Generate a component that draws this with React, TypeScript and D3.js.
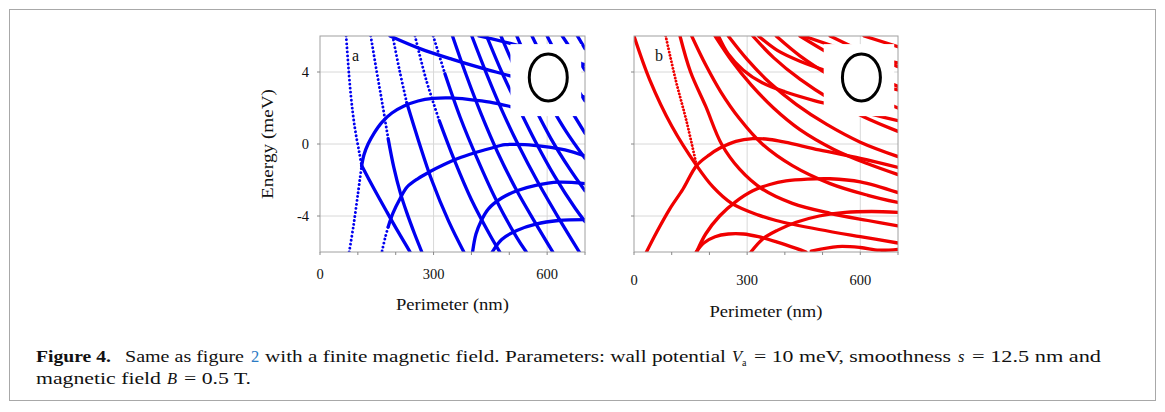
import React from 'react';
import * as d3 from 'd3';

type Pt = [number, number];

// ---- panel a (blue) : [perimeter nm, energy meV]
// falling levels (steep upper part drawn dotted where the markers spread apart)
const aF1top: Pt[] = [[69, 6], [81, 2.8], [92, 0.9], [104, -0.5], [110, -1.2]];
const aF1: Pt[] = [[110, -1.2], [143, -2.5], [176, -3.75], [207, -4.9], [238, -6]];
const aF2top: Pt[] = [[134, 6], [150, 4], [165, 2.2], [180, 0.3]];
const aF2: Pt[] = [[180, 0.3], [195, -1.3], [212, -2.7], [229, -3.8], [250, -5], [269, -6]];
const aF3top: Pt[] = [[192, 6], [210, 4.1], [229, 2.3]];
const aF3: Pt[] = [[229, 2.3], [260, 0.2], [295, -2], [340, -4.3], [380, -6]];
const aF4top: Pt[] = [[251, 6], [280, 3.6], [315, 1.3]];
const aF4: Pt[] = [[315, 1.3], [355, -0.9], [400, -3.1], [450, -5.1], [475, -6]];
const aF5top: Pt[] = [[299, 6], [330, 3.9]];
const aF5: Pt[] = [[330, 3.9], [370, 1.5], [415, -0.8], [465, -3.1], [520, -5.2], [545, -6]];
const aF6: Pt[] = [[350, 6], [385, 3.9], [425, 1.7], [470, -0.5], [520, -2.6], [575, -4.6], [615, -6]];
const aF7: Pt[] = [[401, 6], [440, 3.9], [480, 1.9], [525, -0.1], [575, -2.1], [630, -4.1], [685, -6]];
const aF8: Pt[] = [[440, 6], [480, 4], [525, 2], [570, 0.1], [620, -1.8], [675, -3.6], [700, -4.3]];
const aF9: Pt[] = [[478, 6], [520, 4], [565, 2.1], [610, 0.3], [660, -1.4], [700, -2.6]];
const aF10: Pt[] = [[520, 6], [560, 4.1], [605, 2.3], [650, 0.7], [700, -0.8]];
const aF11: Pt[] = [[560, 6], [600, 4.3], [640, 2.7], [700, 0.6]];
const aF12: Pt[] = [[600, 6], [640, 4.4], [700, 2.4]];
const aF13: Pt[] = [[640, 6], [700, 4.1]];
const aF14: Pt[] = [[680, 6], [700, 5.3]];
// flat descending branches near the top
const aD0: Pt[] = [[185, 6], [264, 5.3], [350, 4.7], [430, 4.2], [500, 3.8], [600, 3.2], [700, 2.6]];
const aD1: Pt[] = [[420, 6], [500, 5.6], [600, 5.0], [700, 4.4]];
// rising domes
const aC1low: Pt[] = [[77, -6], [88, -4.6], [100, -2.8], [110, -1.22]];
const aC1: Pt[] = [[110, -1.22], [116, -0.61], [127, 0], [143, 0.61], [164, 1.22], [190, 1.72], [222, 2.11], [259, 2.39], [298, 2.53], [343, 2.56], [396, 2.47], [449, 2.33], [497, 2.11], [560, 1.75]];
const aC2low: Pt[] = [[164, -5.94], [172, -5.22], [180, -4.61]];
const aC2: Pt[] = [[180, -4.61], [193, -3.83], [211, -3.06], [230, -2.39], [259, -1.92], [291, -1.53], [325, -1.17], [364, -0.81], [407, -0.5], [449, -0.25], [489, -0.04], [541, -0.03], [594, -0.14], [647, -0.33], [700, -0.67]];
const aC3: Pt[] = [[403, -6], [412, -5], [425, -4.3], [445, -3.6], [480, -3.0], [520, -2.6], [570, -2.3], [630, -2.12], [700, -2.2]];
const aC4: Pt[] = [[455, -6], [480, -5.3], [520, -4.8], [570, -4.45], [630, -4.25], [700, -4.2]];

const aSolid = [aF1, aF2, aF3, aF4, aF5, aF6, aF7, aF8, aF9, aF10, aF11, aF12, aF13, aF14, aD0, aD1, aC1, aC2, aC3, aC4];
const aDotted = [aF1top, aF2top, aF3top, aF4top, aF5top, aC1low, aC2low];

// ---- panel b (red)
const bR1: Pt[] = [[0, 6], [42, 3.55], [100, 1.0], [166, -1.2], [210, -2.4], [259, -3.3], [330, -3.95], [377, -4.25], [491, -4.75], [600, -5.15], [700, -5.5]];
const bR2: Pt[] = [[84, 6], [110, 3.6], [140, 1.2], [166, -1.2]];
const bR3: Pt[] = [[122, 6], [150, 4], [190, 2.1], [232, 0], [280, -1.4], [340, -2.5], [420, -3.3], [520, -3.85], [620, -4.25], [700, -4.55]];
const bR4: Pt[] = [[153, 6], [190, 4.4], [230, 2.9], [280, 1.4], [340, 0], [420, -1.2], [520, -2.2], [620, -2.85], [700, -3.25]];
const bR5: Pt[] = [[215, 6], [260, 4.6], [310, 3.3], [370, 2], [440, 0.8], [530, -0.3], [620, -1.1], [700, -1.7]];
const bR6: Pt[] = [[250, 6], [300, 4.7], [360, 3.4], [430, 2.2], [510, 1.1], [600, 0.1], [700, -0.7]];
const bR7: Pt[] = [[315, 6], [370, 4.8], [440, 3.6], [520, 2.5], [610, 1.5], [700, 0.7]];
const bR8: Pt[] = [[377, 6], [440, 4.9], [520, 3.8], [610, 2.8], [700, 2.0]];
const bR9: Pt[] = [[440, 6], [520, 5.0], [610, 4.0], [700, 3.2]];
const bR10: Pt[] = [[520, 6], [610, 5.1], [700, 4.3]];
const bR11: Pt[] = [[610, 6], [700, 5.4]];
const bQ1: Pt[] = [[224, 6], [250, 5.0], [290, 4.1], [340, 3.4], [400, 2.9], [480, 2.4], [560, 2.0], [640, 1.6], [700, 1.3]];
const bQ2: Pt[] = [[330, 6], [380, 5.2], [440, 4.6], [520, 4.0], [600, 3.5], [700, 3.0]];
const bQ3: Pt[] = [[450, 6], [520, 5.5], [600, 5.0], [700, 4.5]];
const bB1: Pt[] = [[33, -6], [60, -4.9], [95, -3.6], [130, -2.5], [166, -1.2], [200, -0.6], [227, -0.24], [270, 0.15], [315, 0.3], [360, 0.25], [400, 0.1], [491, -0.33], [600, -0.8], [700, -1.3]];
const bB2: Pt[] = [[166, -6], [190, -5], [227, -4], [270, -3.2], [315, -2.6], [360, -2.25], [403, -2.05], [460, -1.95], [520, -1.93], [600, -2.1], [700, -2.7]];
const bB3: Pt[] = [[165, -6], [185, -5.5], [215, -5.15], [250, -5.0], [290, -5.0], [330, -5.15], [380, -5.45], [430, -5.8], [456, -6]];
const bB4: Pt[] = [[310, -6], [340, -5.3], [380, -4.8], [430, -4.35], [491, -4.0], [560, -3.8], [630, -3.75], [700, -3.8]];
const bB5: Pt[] = [[470, -5.95], [540, -5.7], [600, -5.75], [650, -5.9], [700, -5.85]];

const bSolid = [bR1, bR3, bR4, bR5, bR6, bR7, bR8, bR9, bR10, bR11, bQ1, bQ2, bQ3, bB1, bB2, bB3, bB4, bB5];
const bDotted = [bR2];

const majorX = [0, 300, 600];
const minorX = [0, 100, 200, 300, 400, 500, 600, 700];
const ticksY = [4, 0, -4];

const W = 1165;
const H = 412;
const serif = 'Liberation Serif';

type PanelProps = {
  id: string;
  left: number;
  right: number;
  solid: Pt[][];
  dotted: Pt[][];
  color: string;
  label: string;
  yLabels: boolean;
  tickY: number;
  titleY: number;
  dash: string;
};

const Panel = ({ id, left, right, solid, dotted, color, label, yLabels, tickY, titleY, dash }: PanelProps) => {
  const top = 36;
  const bottom = 252;
  const x = d3.scaleLinear().domain([0, 700]).range([left, right]);
  const y = d3.scaleLinear().domain([-6, 6]).range([bottom, top]);
  const line = d3
    .line<Pt>()
    .x((d) => x(d[0]))
    .y((d) => y(d[1]))
    .curve(d3.curveCatmullRom.alpha(0.5));

  return (
    <g>
      <defs>
        <clipPath id={`clip-${id}`}>
          <rect x={left} y={top} width={right - left} height={bottom - top} />
        </clipPath>
      </defs>
      {/* grid */}
      {majorX.filter((v) => v > 0).map((v) => (
        <line key={`gx${v}`} x1={x(v)} x2={x(v)} y1={top} y2={bottom} stroke="#d8d8d8" strokeWidth={1} />
      ))}
      {ticksY.map((v) => (
        <line key={`gy${v}`} x1={left} x2={right} y1={y(v)} y2={y(v)} stroke="#d8d8d8" strokeWidth={1} />
      ))}
      <g clipPath={`url(#clip-${id})`}>
        {solid.map((pts, i) => (
          <path key={`s${i}`} d={line(pts) ?? ''} fill="none" stroke={color} strokeWidth={3.3} strokeLinecap="round" />
        ))}
        {dotted.map((pts, i) => (
          <path
            key={`d${i}`}
            d={line(pts) ?? ''}
            fill="none"
            stroke={color}
            strokeWidth={2.9}
            strokeLinecap="round"
            strokeDasharray={dash}
          />
        ))}
        {/* inset with the dot outline */}
        <rect x={x(503)} y={y(5.55)} width={x(690) - x(503)} height={y(1.55) - y(5.55)} fill="#fff" />
        <ellipse cx={x(603)} cy={y(3.7)} rx={19} ry={23.5} fill="none" stroke="#000" strokeWidth={3} />
      </g>
      {/* frame */}
      <rect x={left} y={top} width={right - left} height={bottom - top} fill="none" stroke="#a0a0a0" strokeWidth={1} />
      {/* ticks */}
      {minorX.map((v) => (
        <line key={`tx${v}`} x1={x(v)} x2={x(v)} y1={bottom} y2={bottom + 3} stroke="#888" strokeWidth={1} />
      ))}
      {ticksY.map((v) => (
        <line key={`ty${v}`} x1={left - 3} x2={left} y1={y(v)} y2={y(v)} stroke="#888" strokeWidth={1} />
      ))}
      {majorX.map((v) => (
        <text key={`lx${v}`} x={x(v)} y={tickY} textAnchor="middle" fontFamily={serif} fontSize={14.5} fill="#111">
          {v}
        </text>
      ))}
      {yLabels &&
        ticksY.map((v) => (
          <text key={`ly${v}`} x={left - 11} y={y(v) + 5} textAnchor="end" fontFamily={serif} fontSize={14.5} fill="#111">
            {v}
          </text>
        ))}
      <text
        x={(left + right) / 2}
        y={titleY}
        textAnchor="middle"
        fontFamily={serif}
        fontSize={16}
        fill="#111"
        textLength={113}
        lengthAdjust="spacingAndGlyphs"
      >
        Perimeter (nm)
      </text>
      {yLabels && (
        <text
          transform={`translate(${left - 47},${y(0)}) rotate(-90)`}
          textAnchor="middle"
          fontFamily={serif}
          fontSize={16}
          fill="#111"
          textLength={110}
          lengthAdjust="spacingAndGlyphs"
        >
          Energy (meV)
        </text>
      )}
      <text x={x(0) + (id === 'a' ? 32 : 21)} y={y(4.9) + 5} fontFamily={serif} fontSize={16} fill="#111">
        {label}
      </text>
    </g>
  );
};

export default function App() {
  return (
    <svg width={W} height={H} style={{ position: 'absolute', left: 0, top: 0, background: '#fff' }}>
      <rect x={9.5} y={9.5} width={1146} height={391} fill="#fff" stroke="#a8a8a8" strokeWidth={1} />
      <Panel id="a" left={320} right={585} solid={aSolid} dotted={aDotted} color="#0000f0" label="a" yLabels tickY={279} titleY={310} dash="0.01 4" />
      <Panel id="b" left={634} right={898} solid={bSolid} dotted={bDotted} color="#f00000" label="b" yLabels={false} tickY={285} titleY={317} dash="0.01 3.3" />

      {/* caption */}
      <g fontFamily={serif} fontSize={16.5} fill="#111">
        <text x={36} y={362} fontWeight="bold" textLength={75} lengthAdjust="spacingAndGlyphs">Figure 4.</text>
        <text x={125} y={362} textLength={119} lengthAdjust="spacingAndGlyphs">Same as figure</text>
        <text x={251} y={362} fill="#2b7bc4">2</text>
        <text x={265} y={362} textLength={461} lengthAdjust="spacingAndGlyphs">with a finite magnetic field. Parameters: wall potential</text>
        <text x={732} y={362} fontStyle="italic">V</text>
        <text x={742} y={366} fontSize={10}>a</text>
        <text x={754} y={362} textLength={197} lengthAdjust="spacingAndGlyphs">= 10 meV, smoothness</text>
        <text x={958} y={362} fontStyle="italic">s</text>
        <text x={972} y={362} textLength={129} lengthAdjust="spacingAndGlyphs">= 12.5 nm and</text>
        <text x={36} y={384} textLength={125} lengthAdjust="spacingAndGlyphs">magnetic field</text>
        <text x={167} y={384} fontStyle="italic">B</text>
        <text x={184} y={384} textLength={67} lengthAdjust="spacingAndGlyphs">= 0.5 T.</text>
      </g>
    </svg>
  );
}
